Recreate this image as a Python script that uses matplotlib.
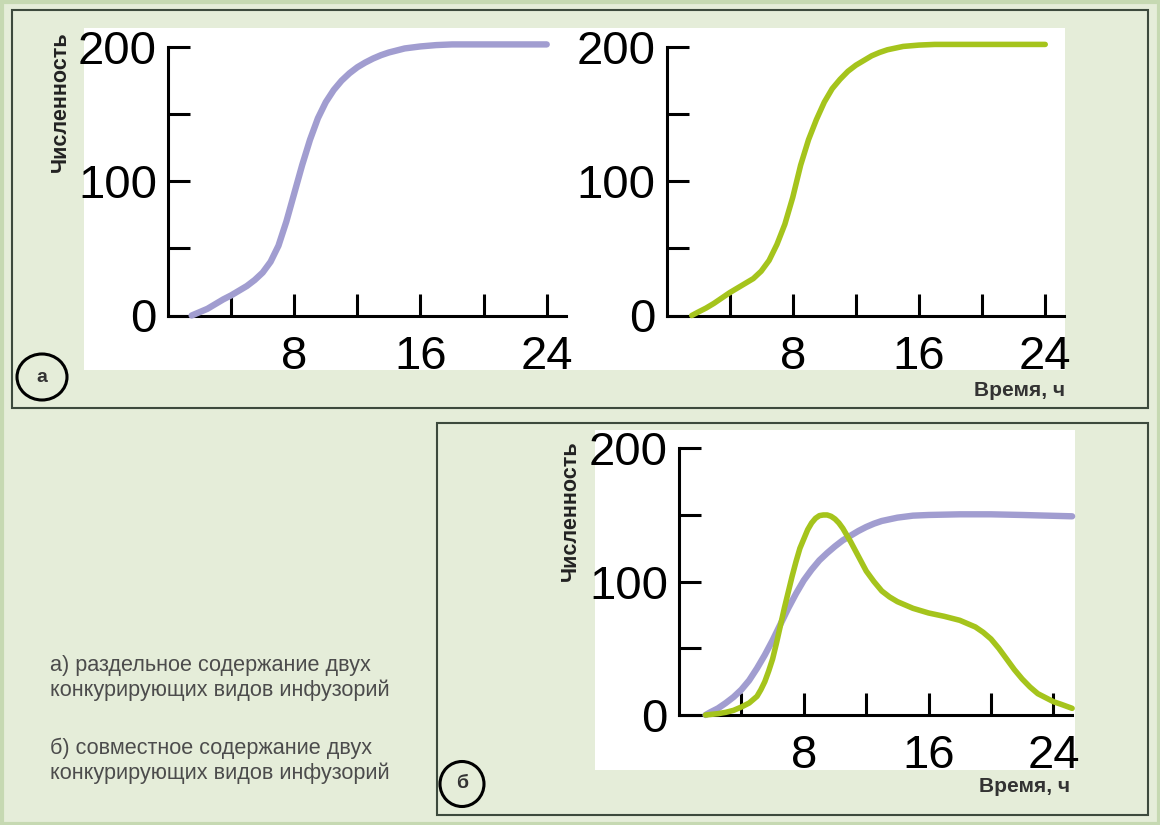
import matplotlib
matplotlib.use("Agg")
import matplotlib.pyplot as plt
from matplotlib.patches import Rectangle, Ellipse

# ---------------- data ----------------
t_sep_a = [1.5, 2, 2.5, 3, 3.5, 4, 4.5, 5, 5.5, 6, 6.5, 7, 7.5, 8, 8.5, 9, 9.5, 10, 10.5, 11, 11.5, 12, 12.5, 13,
           13.5, 14, 14.5, 15, 16, 17, 18, 20, 22, 24]
n_sep_a = [0, 2.5, 5, 8.5, 12, 15, 18.5, 22, 26.5, 32, 40, 52, 70, 91, 112, 131, 147, 159, 168, 175, 180.5, 185, 188.5, 191.5,
           194, 196, 197.5, 199, 200.5, 201.5, 202, 202, 202, 202]

t_sep_b = [1.6, 2, 2.5, 3, 3.5, 4, 4.5, 5, 5.5, 6, 6.5, 7, 7.5, 8, 8.5, 9, 9.5, 10, 10.5, 11, 11.5, 12, 12.5, 13,
           13.5, 14, 15, 16, 17, 18, 20, 22, 24]
n_sep_b = [0, 2.5, 5.5, 9, 13, 17, 20.5, 24, 27.5, 33, 41, 53, 68, 88, 112, 131, 146, 159, 169, 176, 182, 186.5, 190, 193.5,
           196, 198, 200.5, 201.5, 202, 202, 202, 202, 202]

t_mix_a = [1.7, 2, 2.5, 3, 3.5, 4, 4.5, 5, 5.5, 6, 6.5, 7, 7.5, 8, 8.5, 9, 9.5, 10, 10.5, 11, 11.5, 12, 12.5, 13,
           14, 15, 16, 18, 20, 22, 25.2]
n_mix_a = [0, 2, 5, 9, 13.5, 19, 26, 35, 45, 56, 68, 80, 91, 101, 109, 116, 121.5, 126.5, 131, 134.5, 138, 141, 143.5, 145.5,
           148, 149.5, 150, 150.5, 150.5, 150, 149]

t_mix_b = [1.7, 2.5, 3, 3.5, 4, 4.5, 5, 5.25, 5.5, 5.75, 6, 6.25, 6.5, 6.75, 7, 7.25, 7.5, 7.75, 8, 8.25, 8.5, 8.75, 9,
           9.25, 9.5, 9.75, 10, 10.25, 10.5, 11, 11.5, 12, 12.5, 13, 13.5, 14, 15, 16, 17, 18, 19, 19.5, 20,
           20.5, 21, 21.5, 22, 22.5, 23, 23.5, 24, 24.5, 25.2]
n_mix_b = [0, 1, 2, 3.5, 6, 9, 14, 19, 25, 33, 42, 54, 67, 80, 92, 104, 115, 125, 132, 139, 144, 147.5, 149.5,
           150, 150, 149, 147, 144, 140, 130, 119, 108, 100, 93, 88.5, 85, 80, 76.5, 74, 71, 66, 62, 57,
           50, 42, 34, 27, 21, 16, 13, 10, 8, 5]

y_ticks = [0, 50, 100, 150, 200]
y_ticklabels = ["0", "", "100", "", "200"]
x_ticks = [4, 8, 12, 16, 20, 24]
x_ticklabels = ["", "8", "", "16", "", "24"]
ylabel = "Численность"
xlabel = "Время, ч"
caption = ["а) раздельное содержание двух", "конкурирующих видов инфузорий",
           "б) совместное содержание двух", "конкурирующих видов инфузорий"]

PURPLE = "#a19dd0"
GREEN = "#a5c41c"
BG = "#e5edd9"
EDGE = "#3d4a3d"
FONT = ["Liberation Sans", "DejaVu Sans"]

W, H = 1160, 825
fig = plt.figure(figsize=(W / 100, H / 100), dpi=100)
fig.patch.set_facecolor(BG)

# overlay axes in pixel coordinates for decorations
ov = fig.add_axes([0, 0, 1, 1], zorder=0)
ov.set_xlim(0, W)
ov.set_ylim(H, 0)
ov.axis("off")
ov.add_patch(Rectangle((1.5, 1.5), W - 3, H - 3, fill=False, ec="#c6d9b2", lw=3))
ov.add_patch(Rectangle((12, 10), 1136, 398, fc=BG, ec=EDGE, lw=1.5))
ov.add_patch(Rectangle((437, 423), 711, 392, fc=BG, ec=EDGE, lw=1.5))
ov.add_patch(Rectangle((84, 28), 981, 342, fc="white", ec="none"))
ov.add_patch(Rectangle((595, 430), 480, 340, fc="white", ec="none"))
ov.add_patch(Ellipse((42, 377), 50, 46, fill=False, ec="black", lw=2.2))
ov.text(42, 377, "а", ha="center", va="center", fontsize=14, fontweight="bold", color="#333333", family=FONT)
ov.add_patch(Ellipse((462, 784), 44, 45, fill=False, ec="black", lw=2.2))
ov.text(462, 784, "б", ha="center", va="center", fontsize=14, fontweight="bold", color="#333333", family=FONT)

ys = [665, 690, 748, 773]
for s, yy in zip(caption, ys):
    ov.text(50, yy, s, ha="left", va="center", fontsize=15.6, color="#4c4c4c", family=FONT)

ov.text(1065, 390, xlabel, ha="right", va="center", fontsize=15, fontweight="bold", color="#333333", family=FONT)
ov.text(1070, 787, xlabel, ha="right", va="center", fontsize=15, fontweight="bold", color="#333333", family=FONT)
ov.text(60, 102, ylabel, ha="center", va="center", rotation=90, fontsize=15.5, fontweight="bold", color="#222222", family=FONT)
ov.text(570, 511, ylabel, ha="center", va="center", rotation=90, fontsize=15.5, fontweight="bold", color="#222222", family=FONT)


def make_axes(px_left, px_right, px_top, px_bottom, x0_px, y0_px, px_per_h, px_per_n):
    left = px_left / W
    bottom = 1 - px_bottom / H
    width = (px_right - px_left) / W
    height = (px_bottom - px_top) / H
    ax = fig.add_axes([left, bottom, width, height], zorder=2)
    ax.patch.set_alpha(0)
    ax.set_xlim((px_left - x0_px) / px_per_h, (px_right - x0_px) / px_per_h)
    ax.set_ylim((y0_px - px_bottom) / px_per_n, (y0_px - px_top) / px_per_n)
    for s in ["top", "right"]:
        ax.spines[s].set_visible(False)
    ax.spines["left"].set_position(("data", 0))
    ax.spines["bottom"].set_position(("data", 0))
    ax.spines["left"].set_bounds(0, 200)
    ax.spines["bottom"].set_bounds(0, 25.2)
    for s in ["left", "bottom"]:
        ax.spines[s].set_linewidth(2.2)
        ax.spines[s].set_color("black")
    ax.set_yticks(y_ticks)
    ax.set_yticklabels(y_ticklabels)
    ax.set_xticks(x_ticks)
    ax.set_xticklabels(x_ticklabels)
    ax.tick_params(axis="both", direction="in", length=16, width=2.2, color="black", labelsize=34)
    ax.tick_params(axis="y", pad=8)
    ax.tick_params(axis="x", pad=14)
    for lab in ax.get_xticklabels() + ax.get_yticklabels():
        lab.set_family(FONT)
    return ax


ax1 = make_axes(84, 575, 28, 370, 168, 315.5, 15.78, 1.342)
ax1.plot(t_sep_a, n_sep_a, color=PURPLE, lw=4.6, solid_capstyle="round", solid_joinstyle="round", zorder=3)

ax2 = make_axes(580, 1075, 28, 370, 666.5, 315.5, 15.78, 1.342)
ax2.plot(t_sep_b, n_sep_b, color=GREEN, lw=4.0, solid_capstyle="round", solid_joinstyle="round", zorder=3)

ax3 = make_axes(595, 1080, 430, 770, 679, 715, 15.6, 1.3335)
ax3.plot(t_mix_a, n_mix_a, color=PURPLE, lw=4.6, solid_capstyle="round", solid_joinstyle="round", zorder=3)
ax3.plot(t_mix_b, n_mix_b, color=GREEN, lw=4.0, solid_capstyle="round", solid_joinstyle="round", zorder=4)

fig.savefig("out.png", dpi=100, facecolor=BG)
